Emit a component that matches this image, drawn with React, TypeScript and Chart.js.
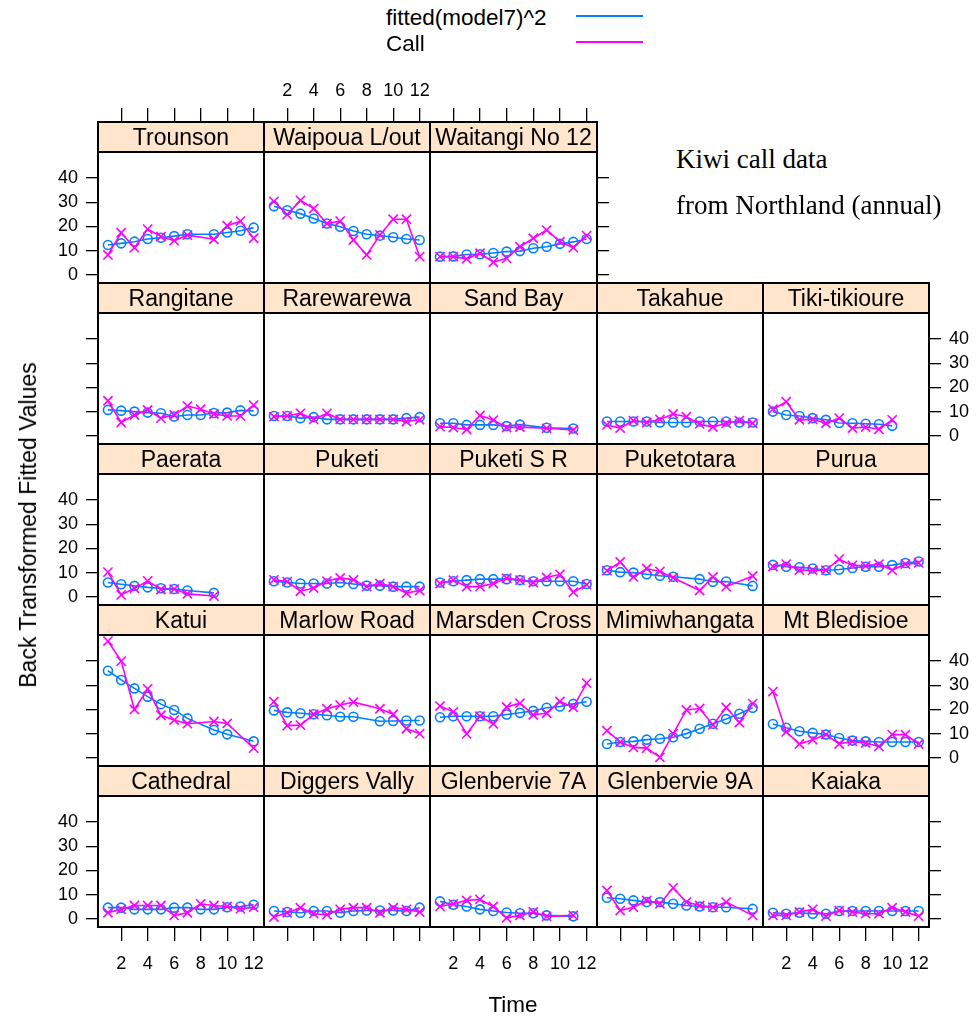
import React, { useEffect, useRef } from "react";
import { Chart, registerables } from "chart.js";

Chart.register(...registerables);

// ---------------- data ----------------
const siteNames = [
  "Cathedral", "Diggers Vally", "Glenbervie 7A", "Glenbervie 9A", "Kaiaka",
  "Katui", "Marlow Road", "Marsden Cross", "Mimiwhangata", "Mt Bledisioe",
  "Paerata", "Puketi", "Puketi S R", "Puketotara", "Purua",
  "Rangitane", "Rarewarewa", "Sand Bay", "Takahue", "Tiki-tikioure",
  "Trounson", "Waipoua L/out", "Waitangi No 12",
];

const timePoints = [1, 2, 3, 4, 5, 6, 7, 8, 9, 10, 11, 12];

const fittedValues: (number | null)[][] = [
  [4.6, 4.6, 3.9, 3.9, 3.9, 4.6, 4.6, 3.9, 3.9, 4.8, 5.1, 5.8],
  [3.2, 2.8, 2.5, 3.2, 3.2, 2.5, 3.2, 3.4, 3.4, 3.4, 3.2, 4.6],
  [7.2, 5.8, 5.1, 3.9, 3.2, 2.6, 2.3, 2.3, 1.4, null, 1.0, null],
  [8.7, 8.3, 7.6, 6.9, 6.9, 6.2, 5.5, 5.1, 4.8, 4.8, null, 4.1],
  [2.5, 2.1, 2.5, 2.1, 2.1, 3.2, 3.2, 3.2, 3.2, 3.2, 3.2, 3.2],
  [36.0, 32.2, 28.7, 25.3, 22.2, 19.8, 16.3, null, 11.5, 9.7, null, 6.8],
  [19.6, 18.8, 18.4, 18.0, 17.6, 17.0, 17.0, null, 15.1, 15.2, 15.4, 15.4],
  [16.8, 17.2, 17.2, 17.2, 17.2, 17.9, 18.6, 19.4, 20.7, 21.2, 22.3, 23.2],
  [5.7, 6.5, 6.8, 7.5, 7.9, 8.5, 10.0, 12.0, 14.1, 16.0, 18.2, 20.7],
  [14.0, 12.4, 11.0, 10.3, 9.6, 8.2, 7.1, 6.8, 6.5, 6.5, 6.5, 6.5],
  [5.9, 5.2, 4.5, 3.9, 3.5, 3.2, 2.6, null, 1.6, null, null, null],
  [6.4, 5.9, 5.5, 5.5, 5.5, 5.9, 5.3, 4.6, 4.6, 4.2, 4.2, 4.2],
  [5.9, 6.4, 6.9, 7.3, 7.3, 7.3, 6.9, 6.4, 6.4, 6.4, 6.4, 5.3],
  [11.0, 10.2, 10.0, 9.3, 8.7, 8.3, null, 7.3, 6.2, 6.3, null, 4.5],
  [13.2, 12.4, 12.2, 11.7, 11.0, 11.3, 11.9, 12.4, 12.4, 13.1, 14.0, 14.6],
  [10.7, 10.4, 10.0, 9.6, 9.3, 8.0, 8.6, 8.6, 9.4, 9.6, 10.5, 10.3],
  [8.2, 8.2, 7.3, 7.7, 6.8, 6.8, 6.8, 6.8, 6.8, 6.8, 7.3, 7.7],
  [5.2, 5.2, 4.5, 4.5, 4.5, 4.0, 4.6, null, 3.3, null, 3.0, null],
  [5.9, 5.9, 5.9, 5.9, 5.5, 5.5, 5.5, 5.9, 5.9, 5.9, 5.5, 5.5],
  [10.0, 8.6, 8.2, 7.3, 6.6, 5.3, 5.2, 5.0, 4.8, 4.1, null, null],
  [12.3, 13.0, 13.7, 14.8, 15.3, 16.0, 16.8, null, 16.8, 17.5, 18.2, 19.5],
  [28.4, 26.7, 25.3, 23.3, 21.2, 19.9, 18.1, 16.8, 16.2, 15.5, 14.8, 14.4],
  [7.5, 7.6, 8.4, 8.5, 9.0, 9.6, 9.8, 11.0, 11.6, 12.8, 13.6, 14.8],
];

const callValues: (number | null)[][] = [
  [2.5, 3.9, 5.5, 5.5, 5.5, 1.4, 2.5, 6.2, 5.5, 5.1, 4.1, 4.8],
  [0.7, 2.5, 4.6, 2.1, 1.7, 3.9, 4.6, 4.6, 2.5, 4.6, 3.9, 2.8],
  [5.1, 6.2, 7.6, 8.0, 5.1, 0.4, 1.4, 2.8, 1.0, null, 1.4, null],
  [11.7, 3.4, 4.8, 7.6, 6.2, 12.8, 6.9, 5.5, 4.8, 6.9, null, 1.4],
  [1.4, 1.4, 2.8, 3.9, 1.1, 3.4, 2.8, 2.1, 2.1, 4.6, 2.8, 1.1],
  [48.3, 40.0, 20.0, 28.5, 17.6, 15.6, 14.1, null, 15.0, 14.2, null, 4.0],
  [23.2, 13.3, 13.5, 18.0, 20.3, 21.8, 23.0, null, 20.3, 18.0, 12.0, 10.0],
  [21.4, 19.0, 9.9, 17.2, 14.0, 21.0, 22.6, 17.8, 18.4, 23.3, 20.9, 30.9],
  [11.2, 6.5, 4.3, 4.0, 0.2, 10.0, 19.8, 20.4, 13.6, 20.8, 14.6, 22.4],
  [27.4, 10.7, 5.7, 7.5, 9.6, 5.7, 6.8, 6.1, 4.7, 9.6, 9.6, 5.7],
  [10.2, 0.8, 3.5, 6.6, 3.0, 3.2, 1.2, null, 0.3, null, null, null],
  [7.0, 6.3, 2.3, 3.6, 6.5, 7.8, 7.0, 4.2, 5.5, 4.2, 1.5, 2.6],
  [5.5, 6.9, 4.2, 4.2, 5.5, 7.7, 6.9, 5.9, 8.0, 9.3, 1.9, 5.0],
  [10.8, 14.4, 8.2, 11.7, 10.5, 7.9, null, 2.6, 8.2, 4.2, null, 8.6],
  [12.5, 13.5, 11.0, 11.0, 11.0, 15.6, 13.0, 12.8, 13.5, 11.0, 13.5, 14.0],
  [14.5, 5.5, 8.6, 10.7, 7.3, 8.6, 12.3, 11.0, 9.0, 8.2, 8.2, 12.7],
  [7.9, 8.2, 9.3, 6.8, 9.3, 6.8, 6.8, 6.8, 6.8, 6.8, 5.9, 6.6],
  [3.8, 3.4, 2.6, 8.4, 6.5, 3.4, 3.6, null, 3.1, null, 2.4, null],
  [4.5, 3.2, 6.3, 5.5, 6.8, 9.0, 7.9, 4.9, 3.6, 5.2, 6.3, 5.2],
  [11.0, 14.1, 6.6, 6.8, 5.2, 7.3, 3.2, 3.6, 2.7, 6.6, null, null],
  [8.2, 17.4, 11.2, 18.9, 15.8, 14.1, 16.4, null, 14.7, 20.3, 22.2, 15.1],
  [30.4, 24.9, 30.8, 27.4, 21.2, 22.2, 14.4, 8.2, 16.5, 23.0, 23.0, 7.5],
  [7.5, 7.5, 6.6, 8.9, 5.2, 6.8, 11.6, 15.1, 18.5, 13.7, 11.2, 16.2],
];

const yTickValues = [0, 10, 20, 30, 40];
const xTickValues = [2, 4, 6, 8, 10, 12];
const seriesLabels = ["fitted(model7)^2", "Call"];
const seriesColors = ["#0080ff", "#ff00ff"];
const noteLines = ["Kiwi call data", "from Northland (annual)"];
const xTitle = "Time";
const yTitle = "Back Transformed Fitted Values";

// ---------------- layout ----------------
const colEdges = [98, 264, 430, 597, 763, 929];
const rowEdges = [122, 283, 444, 605, 766, 927];
const MARGIN = 60;
const STRIP_H = 30;
const X_MIN = 0.25;
const X_MAX = 12.78;
const Y_MIN = -3.4;
const Y_MAX_PLOT = 50.8;
const SANS = '"Liberation Sans", Arial, Helvetica, sans-serif';
const SERIF = '"Liberation Serif", "Times New Roman", serif';
const tickFont = { family: SANS, size: 18 };

function Panel({ index }: { index: number }) {
  const ref = useRef<HTMLCanvasElement | null>(null);
  const row = 4 - Math.floor(index / 5);
  const col = index % 5;
  const L = colEdges[col];
  const W = colEdges[col + 1] - L;
  const T = rowEdges[row];
  const H = rowEdges[row + 1] - T;

  useEffect(() => {
    if (!ref.current) return;
    const name = siteNames[index];
    const lastCol = row === 0 ? 2 : 4;
    const hasLeft = col === 0;
    const labLeft = hasLeft && row % 2 === 0;
    const hasRight = col === lastCol;
    const labRight = hasRight && row % 2 === 1;
    const hasTop = row === 0;
    const labTop = hasTop && col === 1;
    const hasBottom = row === 4;
    const labBottom = hasBottom && col % 2 === 0;
    const yMaxTotal = Y_MIN + (H / (H - STRIP_H)) * (Y_MAX_PLOT - Y_MIN);

    const fix = (isY: boolean) => (s: any) => {
      if (isY) s.width = MARGIN;
      else s.height = MARGIN;
      s.paddingLeft = 0;
      s.paddingRight = 0;
      s.paddingTop = 0;
      s.paddingBottom = 0;
    };
    const yScale = (pos: string, show: boolean, lab: boolean) => ({
      type: "linear",
      position: pos,
      min: Y_MIN,
      max: yMaxTotal,
      afterBuildTicks: (s: any) => {
        s.ticks = yTickValues.map((v) => ({ value: v }));
      },
      afterFit: fix(true),
      grid: { display: show, drawOnChartArea: false, drawTicks: true, tickLength: 12, color: "#000", lineWidth: 1.3 },
      border: { display: false },
      ticks: { display: lab, font: tickFont, color: "#000", padding: 8, autoSkip: false },
    });
    const xScale = (pos: string, show: boolean, lab: boolean) => ({
      type: "linear",
      position: pos,
      min: X_MIN,
      max: X_MAX,
      afterBuildTicks: (s: any) => {
        s.ticks = xTickValues.map((v) => ({ value: v }));
      },
      afterFit: fix(false),
      grid: { display: show, drawOnChartArea: false, drawTicks: true, tickLength: 14, color: "#000", lineWidth: 1.3 },
      border: { display: false },
      ticks: { display: lab, font: tickFont, color: "#000", padding: pos === "top" ? 6 : 12, autoSkip: false, maxRotation: 0, minRotation: 0 },
    });

    const framePlugin = {
      id: "panelFrame",
      beforeDatasetsDraw(chart: any) {
        const { ctx, chartArea: a } = chart;
        ctx.save();
        ctx.fillStyle = "#ffe5cc";
        ctx.fillRect(a.left, a.top, a.right - a.left, STRIP_H);
        ctx.fillStyle = "#000";
        ctx.font = `23px ${SANS}`;
        ctx.textAlign = "center";
        ctx.textBaseline = "middle";
        ctx.fillText(name, (a.left + a.right) / 2, a.top + STRIP_H / 2 + 1.5);
        ctx.restore();
      },
      afterDraw(chart: any) {
        const { ctx, chartArea: a } = chart;
        ctx.save();
        ctx.strokeStyle = "#000";
        ctx.lineWidth = 2;
        ctx.strokeRect(a.left, a.top, a.right - a.left, a.bottom - a.top);
        ctx.beginPath();
        ctx.moveTo(a.left, a.top + STRIP_H);
        ctx.lineTo(a.right, a.top + STRIP_H);
        ctx.stroke();
        ctx.restore();
      },
    };

    const mk = (vals: (number | null)[]) => timePoints.map((t, i) => ({ x: t, y: vals[i] }));

    const chart = new Chart(ref.current, {
      type: "line",
      data: {
        datasets: [
          {
            label: seriesLabels[1],
            data: mk(callValues[index]),
            borderColor: seriesColors[1],
            backgroundColor: seriesColors[1],
            borderWidth: 1.6,
            pointStyle: "crossRot",
            pointRadius: 6.5,
            pointBorderWidth: 1.6,
            pointBorderColor: seriesColors[1],
            spanGaps: true,
            order: 1,
            xAxisID: "x",
            yAxisID: "y",
          },
          {
            label: seriesLabels[0],
            data: mk(fittedValues[index]),
            borderColor: seriesColors[0],
            backgroundColor: "rgba(0,0,0,0)",
            borderWidth: 1.6,
            pointStyle: "circle",
            pointRadius: 4.5,
            pointBorderWidth: 1.6,
            pointBorderColor: seriesColors[0],
            pointBackgroundColor: "rgba(0,0,0,0)",
            spanGaps: true,
            order: 2,
            xAxisID: "x",
            yAxisID: "y",
          },
        ],
      },
      options: {
        responsive: false,
        animation: false,
        devicePixelRatio: 1,
        events: [],
        layout: { padding: 0 },
        plugins: { legend: { display: false }, tooltip: { enabled: false } },
        scales: {
          x: xScale("bottom", hasBottom, labBottom),
          xt: xScale("top", hasTop, labTop),
          y: yScale("left", hasLeft, labLeft),
          yr: yScale("right", hasRight, labRight),
        } as any,
      } as any,
      plugins: [framePlugin],
    } as any);
    return () => chart.destroy();
  }, [index]);

  return (
    <canvas
      ref={ref}
      width={W + 2 * MARGIN}
      height={H + 2 * MARGIN}
      style={{
        position: "absolute",
        left: L - MARGIN,
        top: T - MARGIN,
        width: W + 2 * MARGIN,
        height: H + 2 * MARGIN,
      }}
    />
  );
}

export default function App() {
  const text: React.CSSProperties = {
    position: "absolute",
    fontFamily: SANS,
    fontSize: 22.5,
    lineHeight: "24px",
    color: "#000",
    whiteSpace: "nowrap",
  };
  return (
    <div
      style={{
        position: "absolute",
        left: 0,
        top: 0,
        width: 976,
        height: 1021,
        background: "#fff",
        overflow: "hidden",
      }}
    >
      {siteNames.map((_, i) => (
        <Panel key={i} index={i} />
      ))}
      {/* legend */}
      <div style={{ ...text, left: 386, top: 6 }}>{seriesLabels[0]}</div>
      <div style={{ ...text, left: 386, top: 32 }}>{seriesLabels[1]}</div>
      <div style={{ position: "absolute", left: 576, top: 15, width: 67, height: 2, background: seriesColors[0] }} />
      <div style={{ position: "absolute", left: 576, top: 41, width: 67, height: 2, background: seriesColors[1] }} />
      {/* note */}
      <div style={{ ...text, fontFamily: SERIF, fontSize: 27, lineHeight: "30px", left: 676, top: 144 }}>{noteLines[0]}</div>
      <div style={{ ...text, fontFamily: SERIF, fontSize: 27, lineHeight: "30px", left: 676, top: 190 }}>{noteLines[1]}</div>
      {/* axis titles */}
      <div style={{ ...text, left: 513, top: 993, transform: "translateX(-50%)" }}>{xTitle}</div>
      <div
        style={{
          ...text,
          fontSize: 23,
          left: 28,
          top: 525,
          transform: "translate(-50%, -50%) rotate(-90deg)",
        }}
      >
        {yTitle}
      </div>
    </div>
  );
}
